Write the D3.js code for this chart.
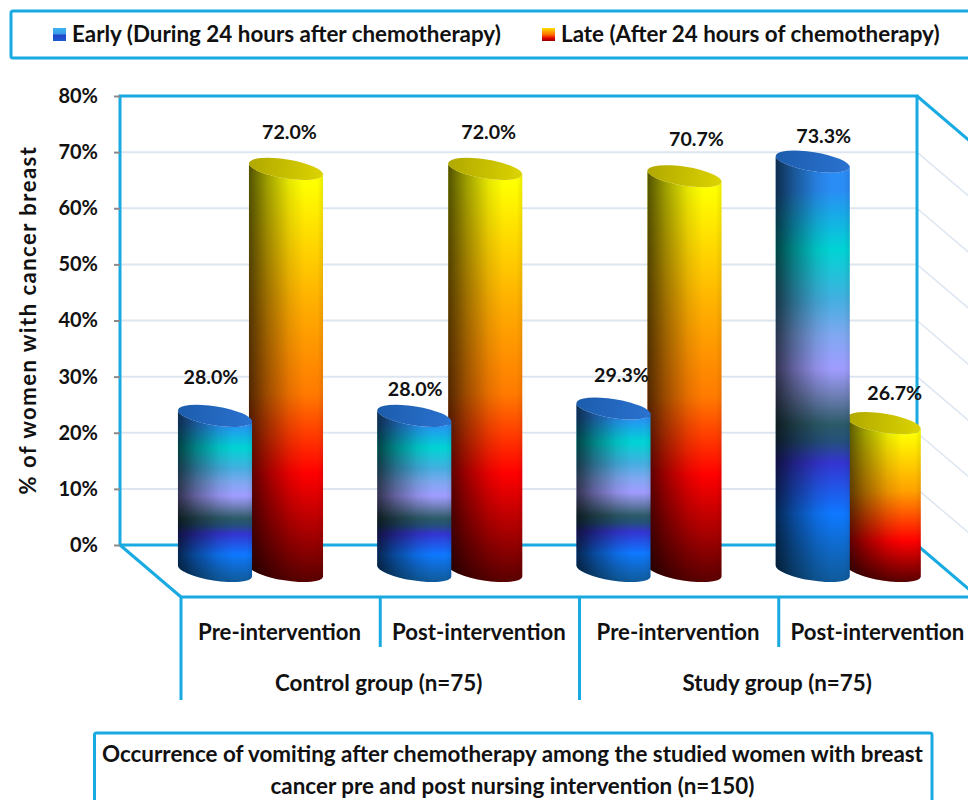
<!DOCTYPE html>
<html>
<head>
<meta charset="utf-8">
<script src="https://cdn.jsdelivr.net/npm/d3@7"></script>
<style>
  html, body { margin: 0; padding: 0; background: #fff; }
  text { font-family: Lato, "Open Sans", sans-serif; font-weight: 700; fill: #111; }
</style>
</head>
<body>
<div id="chart"></div>
<script>
// values
const groups = ["Control group (n=75)", "Study group (n=75)"];
const categories = ["Pre-intervention", "Post-intervention", "Pre-intervention ", "Post-intervention "];
const earlyValues = [28.0, 28.0, 29.3, 73.3];
const lateValues = [72.0, 72.0, 70.7, 26.7];
const yTicks = [0, 10, 20, 30, 40, 50, 60, 70, 80];
const legendLabels = ["Early (During 24 hours after chemotherapy)", "Late (After 24 hours of chemotherapy)"];
const titleLines = [
  "Occurrence of vomiting after chemotherapy among the studied women with breast",
  "cancer pre and post nursing intervention (n=150)"
];

// hand placed label nudges, the labels in the original are not regular
const earlyNudge = [[-4, -32], [1, -20], [8, -27], [11, -19]];
const lateNudge = [[3.5, -30], [3.5, -30], [12, -30], [11, -23]];

const width = 968, height = 800;
const blue = "#19aae2";
const gridColor = "#dde6f0";

// the 3d box: back wall and how far the floor comes forward
const depthX = 61, depthY = 52;
const yScale = d3.scaleLinear().domain([0, 80]).range([545, 96]);
const xScale = d3.scaleBand().domain(categories).range([181, 978]);
const backLeft = xScale.range()[0] - depthX;
const backRight = xScale.range()[1] - depthX;

const svg = d3.select("#chart").append("svg")
  .attr("width", width)
  .attr("height", height)
  .style("display", "block");

const defs = svg.append("defs");

function vGradient(id, stops) {
  const g = defs.append("linearGradient").attr("id", id)
    .attr("x1", 0).attr("y1", 0).attr("x2", 0).attr("y2", 1);
  stops.forEach(s => g.append("stop").attr("offset", s[0]).attr("stop-color", s[1]));
}

vGradient("earlyFill", [
  [0, "#2a8cf5"], [0.08, "#2a8cf5"], [0.22, "#00d4d4"], [0.34, "#45aee0"],
  [0.42, "#7fa8f0"], [0.5, "#a09cff"], [0.56, "#7080b8"], [0.63, "#2c5a68"],
  [0.67, "#24507a"], [0.72, "#3434d0"], [0.84, "#0e78ff"], [0.92, "#0f69c8"], [1, "#0f5a9a"]
]);
vGradient("lateFill", [
  [0, "#ffff00"], [0.05, "#ffff00"], [0.33, "#ffb000"], [0.55, "#ff7a00"],
  [0.74, "#ff0000"], [0.88, "#a80000"], [1, "#580000"]
]);
vGradient("lateFillShort", [
  [0, "#ffff00"], [0.1, "#ffff00"], [0.45, "#ffa000"], [0.75, "#ff0000"],
  [0.88, "#a80000"], [1, "#580000"]
]);
vGradient("earlyLegend", [[0, "#3cb4f0"], [0.45, "#3a9ae8"], [0.55, "#2244c8"], [1, "#1a5ad0"]]);
vGradient("lateLegend", [[0, "#ffe000"], [0.5, "#ff7000"], [0.8, "#e00000"], [1, "#900000"]]);

// dark on the left, a little dark on the far right
const sideShade = defs.append("linearGradient").attr("id", "sideShade");
[[0, 0.68], [0.25, 0.38], [0.55, 0.1], [0.75, 0], [0.92, 0], [1, 0.08]].forEach(s => {
  sideShade.append("stop").attr("offset", s[0])
    .attr("stop-color", "#000").attr("stop-opacity", s[1]);
});
const capBlue = defs.append("linearGradient").attr("id", "capBlue");
capBlue.append("stop").attr("offset", 0).attr("stop-color", "#1c5cac");
capBlue.append("stop").attr("offset", 1).attr("stop-color", "#2a72d0");
const capYellow = defs.append("linearGradient").attr("id", "capYellow");
capYellow.append("stop").attr("offset", 0).attr("stop-color", "#b0a800");
capYellow.append("stop").attr("offset", 1).attr("stop-color", "#dcd400");

// grid lines on back wall and right side wall
const grid = svg.append("g");
grid.selectAll(".back").data(yTicks.slice(1, -1)).join("line")
  .attr("x1", backLeft).attr("x2", backRight)
  .attr("y1", d => yScale(d)).attr("y2", d => yScale(d))
  .attr("stroke", gridColor).attr("stroke-width", 2);
grid.selectAll(".side").data(yTicks.slice(1, -1)).join("line")
  .attr("x1", backRight).attr("x2", backRight + depthX)
  .attr("y1", d => yScale(d)).attr("y2", d => yScale(d) + depthY)
  .attr("stroke", gridColor).attr("stroke-width", 1.5);

// frame of the box
const frame = svg.append("g").attr("stroke", blue).attr("stroke-width", 3).attr("fill", "none");
const y0 = yScale(0), yTop = yScale(80);
frame.append("path").attr("d", d3.line()([
  [backLeft, y0], [backLeft, yTop], [backRight, yTop], [backRight, y0], [backLeft, y0]
]));
frame.append("path").attr("d", d3.line()([[backLeft, y0], [backLeft + depthX, y0 + depthY]]));
frame.append("path").attr("d", d3.line()([[backRight, y0], [backRight + depthX, y0 + depthY]]));
frame.append("path").attr("d", d3.line()([[backRight, yTop], [backRight + depthX, yTop + depthY]]));
frame.append("line").attr("x1", backLeft + depthX).attr("x2", width)
  .attr("y1", y0 + depthY).attr("y2", y0 + depthY);

// y axis
const yAxis = d3.axisLeft(yScale).tickValues(yTicks).tickFormat(d => d + "%").tickSize(6).tickPadding(16);
const yG = svg.append("g").attr("transform", `translate(${backLeft},0)`).call(yAxis);
yG.select(".domain").remove();
yG.selectAll(".tick line").attr("stroke", "#8a8a8a").attr("stroke-width", 2);
yG.selectAll(".tick text").style("font-size", "20px").attr("fill", "#111");

svg.append("text")
  .attr("transform", `translate(36,320) rotate(-90)`)
  .attr("text-anchor", "middle")
  .style("font-size", "22px")
  .style("letter-spacing", "1.5px")
  .text("% of women with cancer breast");

// cylinders, late first because early sits in front of it
const radiusX = 37.5, radiusY = 9.5, tilt = 9;
const tiltRad = tilt * Math.PI / 180;
const dx = radiusX * Math.cos(tiltRad), dy = radiusX * Math.sin(tiltRad);
const frontOffset = depthY / 2 + 2;
const baseY = y0 + depthY / 2;

function sidePath(cx, topY) {
  return `M${cx - dx},${topY - dy}` +
    `L${cx - dx},${baseY - dy}` +
    `A${radiusX},${radiusY} ${tilt} 0 0 ${cx + dx},${baseY + dy}` +
    `L${cx + dx},${topY + dy}` +
    `A${radiusX},${radiusY} ${tilt} 0 1 ${cx - dx},${topY - dy}Z`;
}

const rows = categories.map((c, i) => ({ cat: c, i: i, early: earlyValues[i], late: lateValues[i] }));
const seriesOffset = { late: 105, early: 34 };
const seriesCap = { late: "url(#capYellow)", early: "url(#capBlue)" };

function drawCylinders(key) {
  const g = svg.append("g").selectAll("g").data(rows).join("g");
  const cx = d => xScale(d.cat) + seriesOffset[key];
  const topY = d => yScale(d[key]) + frontOffset;
  const fill = d => key === "early" ? "url(#earlyFill)"
    : (d[key] < 40 ? "url(#lateFillShort)" : "url(#lateFill)");

  g.append("path").attr("d", d => sidePath(cx(d), topY(d))).attr("fill", fill);
  g.append("path").attr("d", d => sidePath(cx(d), topY(d))).attr("fill", "url(#sideShade)");
  g.append("ellipse")
    .attr("rx", radiusX).attr("ry", radiusY)
    .attr("transform", d => `translate(${cx(d)},${topY(d)}) rotate(${tilt})`)
    .attr("fill", seriesCap[key]);
}
drawCylinders("late");
drawCylinders("early");

// value labels
const labelG = svg.append("g").attr("text-anchor", "middle");
labelG.selectAll(".late").data(rows).join("text")
  .attr("x", d => xScale(d.cat) + seriesOffset.late + lateNudge[d.i][0])
  .attr("y", d => yScale(d.late) + frontOffset + lateNudge[d.i][1])
  .style("font-size", "19.6px")
  .text(d => d.late.toFixed(1) + "%");
labelG.selectAll(".early").data(rows).join("text")
  .attr("x", d => xScale(d.cat) + seriesOffset.early + earlyNudge[d.i][0])
  .attr("y", d => yScale(d.early) + frontOffset + earlyNudge[d.i][1])
  .style("font-size", "19.6px")
  .text(d => d.early.toFixed(1) + "%");

// category axis under the floor
const floorY = y0 + depthY;
const axisG = svg.append("g");
axisG.selectAll("line").data(categories).join("line")
  .attr("x1", d => xScale(d)).attr("x2", d => xScale(d))
  .attr("y1", floorY)
  .attr("y2", (d, i) => i % 2 === 0 ? floorY + 103 : floorY + 50)
  .attr("stroke", blue).attr("stroke-width", 3);
axisG.selectAll("text").data(categories).join("text")
  .attr("x", d => xScale(d) + xScale.bandwidth() / 2 - 1)
  .attr("y", floorY + 43)
  .attr("text-anchor", "middle")
  .style("font-size", "22.2px")
  .text(d => d.trim());
axisG.selectAll(".group").data(groups).join("text")
  .attr("x", (d, i) => xScale(categories[i * 2 + 1]) - 1.5)
  .attr("y", floorY + 94)
  .attr("text-anchor", "middle")
  .style("font-size", "22.4px")
  .text(d => d);

// legend box, runs off the right side of the picture
svg.append("rect").attr("x", 11).attr("y", 11).attr("width", 970).attr("height", 47).attr("rx", 2)
  .attr("fill", "#fff").attr("stroke", blue).attr("stroke-width", 3);
const legendX = [53, 542];
const legendG = svg.append("g").selectAll("g").data(legendLabels).join("g")
  .attr("transform", (d, i) => `translate(${legendX[i]},0)`);
legendG.append("rect").attr("y", 28).attr("width", 13).attr("height", 13)
  .attr("fill", (d, i) => i === 0 ? "url(#earlyLegend)" : "url(#lateLegend)");
legendG.append("text").attr("x", 19).attr("y", 42)
  .style("font-size", "22.4px")
  .text(d => d);

// title box
svg.append("rect").attr("x", 94.5).attr("y", 733).attr("width", 837.5).attr("height", 75).attr("rx", 2)
  .attr("fill", "#fff").attr("stroke", blue).attr("stroke-width", 3);
svg.append("g").selectAll("text").data(titleLines).join("text")
  .attr("x", 512.5)
  .attr("y", (d, i) => 762 + i * 32)
  .attr("text-anchor", "middle")
  .style("font-size", "22.4px")
  .text(d => d);
</script>
</body>
</html>
